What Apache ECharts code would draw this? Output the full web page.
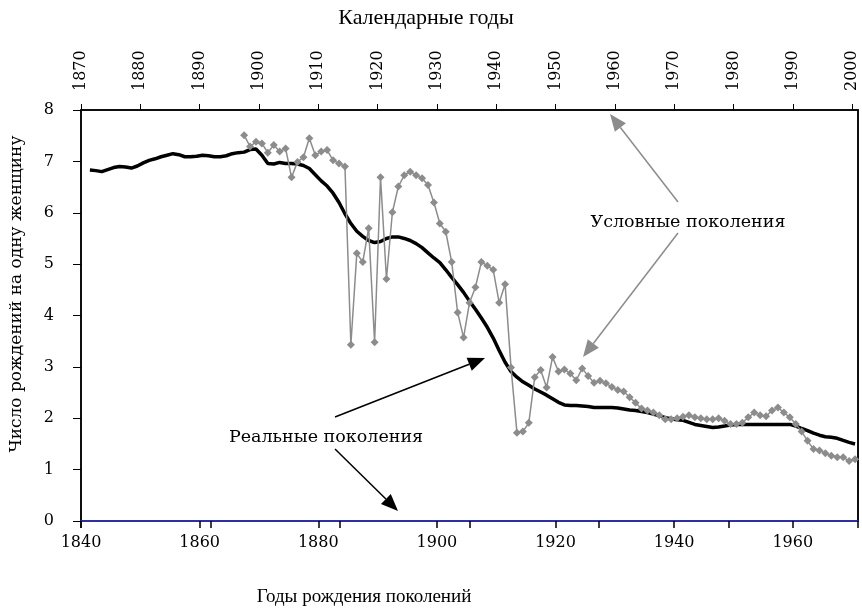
<!DOCTYPE html>
<html>
<head>
<meta charset="utf-8">
<script src="https://cdn.jsdelivr.net/npm/echarts@6/dist/echarts.min.js"></script>
<style>
  html, body { margin: 0; padding: 0; background: #fff; }
</style>
</head>
<body>
<div id="main" style="width:862px;height:609px;"></div>
<script>
// реальные поколения: годы рождения 1841..1970
var birthStart = 1841;
var realGen = [
  6.83, 6.82, 6.80, 6.84, 6.88, 6.90, 6.89, 6.87, 6.91, 6.97,
  7.02, 7.05, 7.09, 7.12, 7.15, 7.13, 7.09, 7.09, 7.10, 7.12,
  7.11, 7.09, 7.09, 7.11, 7.15, 7.17, 7.18, 7.23, 7.24, 7.12,
  6.96, 6.95, 6.98, 6.96, 6.96, 6.95, 6.92, 6.86, 6.74, 6.62,
  6.52, 6.38, 6.20, 5.98, 5.79, 5.64, 5.54, 5.46, 5.42, 5.44,
  5.50, 5.53, 5.53, 5.50, 5.46, 5.40, 5.32, 5.22, 5.12, 5.03,
  4.89, 4.74, 4.60, 4.45, 4.28, 4.12, 3.95, 3.77, 3.56, 3.32,
  3.09, 2.91, 2.80, 2.71, 2.64, 2.57, 2.51, 2.45, 2.38, 2.31,
  2.26, 2.25, 2.25, 2.24, 2.23, 2.21, 2.21, 2.21, 2.21, 2.20,
  2.18, 2.16, 2.15, 2.13, 2.11, 2.08, 2.05, 2.01, 1.99, 1.97,
  1.96, 1.92, 1.88, 1.86, 1.84, 1.82, 1.83, 1.85, 1.87, 1.88,
  1.88, 1.88, 1.88, 1.88, 1.88, 1.88, 1.88, 1.88, 1.88, 1.85,
  1.80, 1.76, 1.71, 1.67, 1.64, 1.63, 1.61, 1.57, 1.53, 1.50
];

// условные поколения: календарные годы 1897..2000
var calStart = 1897;
var condGen = [
  7.51, 7.29, 7.38, 7.35, 7.17, 7.32, 7.19, 7.25, 6.69, 6.99,
  7.08, 7.45, 7.12, 7.19, 7.22, 7.02, 6.96, 6.90, 3.43, 5.21,
  5.04, 5.70, 3.48, 6.69, 4.71, 6.01, 6.51, 6.73, 6.80, 6.73,
  6.67, 6.54, 6.20, 5.79, 5.63, 5.04, 4.06, 3.57, 4.25, 4.55,
  5.04, 4.97, 4.89, 4.25, 4.61, 2.99, 1.72, 1.74, 1.91, 2.80,
  2.94, 2.60, 3.19, 2.91, 2.95, 2.87, 2.74, 2.97, 2.82, 2.69,
  2.73, 2.68, 2.61, 2.55, 2.52, 2.41, 2.30, 2.19, 2.15, 2.11,
  2.06, 1.98, 1.98, 2.00, 2.03, 2.06, 2.02, 2.00, 1.98, 1.98,
  2.00, 1.95, 1.89, 1.89, 1.91, 2.02, 2.11, 2.06, 2.04, 2.15,
  2.21, 2.11, 2.02, 1.89, 1.74, 1.56, 1.40, 1.37, 1.32, 1.27,
  1.24, 1.24, 1.17, 1.20
];

var FONT = "DejaVu Serif";
var TFONT = "Liberation Serif";
var GREY = "#8c8c8c";

// точки годовых данных ставим в середину года
var realData = realGen.map(function (v, i) { return [birthStart + i + 0.5, v]; });
var condData = condGen.map(function (v, i) { return [calStart + i + 0.5, v]; });

// стрелка: линия + треугольный наконечник
function arrow(x1, y1, x2, y2, color) {
  var a = Math.atan2(y2 - y1, x2 - x1);
  var L = 17, W = 7;
  var bx = x2 - L * Math.cos(a), by = y2 - L * Math.sin(a);
  var px = -Math.sin(a), py = Math.cos(a);
  return [
    { type: "line", shape: { x1: x1, y1: y1, x2: bx, y2: by }, style: { stroke: color, lineWidth: 1.5 } },
    { type: "polygon", shape: { points: [[x2, y2], [bx + W * px, by + W * py], [bx - W * px, by - W * py]] }, style: { fill: color } }
  ];
}

var myChart = echarts.init(document.getElementById("main"));

var graphics = [
  { type: "text", x: 426, y: 18, style: { text: "Календарные годы", font: "22px " + TFONT, fill: "#000", align: "center", verticalAlign: "middle" } },
  { type: "text", x: 364, y: 597, style: { text: "Годы рождения поколений", font: "19px " + TFONT, fill: "#000", align: "center", verticalAlign: "middle" } },
  { type: "text", x: 17, y: 294, rotation: Math.PI / 2,
    style: { text: "Число рождений на одну женщину", font: "17px " + FONT, fill: "#000", align: "center", verticalAlign: "middle" } },
  { type: "text", x: 688, y: 222, style: { text: "Условные поколения", font: "17.5px " + FONT, fill: "#000", align: "center", verticalAlign: "middle" } },
  { type: "text", x: 326, y: 437, style: { text: "Реальные поколения", font: "17.5px " + FONT, fill: "#000", align: "center", verticalAlign: "middle" } }
]
  .concat(arrow(678, 202, 610, 114, GREY))
  .concat(arrow(678, 233, 583, 357, GREY))
  .concat(arrow(335, 417, 485, 358, "#000"))
  .concat(arrow(335, 449, 398, 511, "#000"));

function yearLabel(step) {
  return function (v) { return v % step === 0 ? String(v) : ""; };
}

var option = {
  animation: false,
  backgroundColor: "#fff",
  grid: { left: 81, right: 4, top: 110, bottom: 88, show: true, borderColor: "#000", borderWidth: 1.5, backgroundColor: "transparent" },
  xAxis: [
    {
      type: "value",
      position: "bottom",
      min: 1840,
      max: 1971,
      interval: 20,
      splitLine: { show: false },
      axisLine: { show: true, onZero: false, lineStyle: { color: "#2b2bbf", width: 1.5 } },
      axisTick: { show: true, length: 7, lineStyle: { color: "#000", width: 1.5 } },
      axisLabel: { formatter: yearLabel(20), showMaxLabel: false, margin: 14, color: "#000", fontFamily: FONT, fontSize: 16 }
    },
    {
      type: "value",
      position: "top",
      min: 1870,
      max: 2001,
      interval: 10,
      splitLine: { show: false },
      axisLine: { show: true, onZero: false, lineStyle: { color: "#000", width: 1.5 } },
      axisTick: { show: true, length: 6, lineStyle: { color: "#000", width: 1 } },
      axisLabel: { formatter: yearLabel(10), showMaxLabel: false, rotate: -90, margin: 19, color: "#000", fontFamily: FONT, fontSize: 16 }
    },
    {
      // только засечки нижней оси
      type: "value",
      position: "bottom",
      min: 1840,
      max: 1960,
      interval: 20,
      splitLine: { show: false },
      axisLine: { show: false, onZero: false },
      axisTick: { show: true, length: 7, lineStyle: { color: "#000", width: 1.5 } },
      axisLabel: { show: false }
    }
  ],
  yAxis: [
    {
      type: "value",
      min: 0,
      max: 8,
      interval: 1,
      splitLine: { show: false },
      axisLine: { show: true, onZero: false, lineStyle: { color: "#000", width: 1.5 } },
      axisTick: { show: true, length: 8, lineStyle: { color: "#000" } },
      axisLabel: { margin: 27, color: "#000", fontFamily: FONT, fontSize: 16 }
    },
    {
      type: "value",
      position: "right",
      min: 0,
      max: 8,
      splitLine: { show: false },
      axisLine: { show: true, onZero: false, lineStyle: { color: "#000", width: 1.5 } },
      axisTick: { show: false },
      axisLabel: { show: false }
    }
  ],
  series: [
    {
      name: "Реальные поколения",
      type: "line",
      xAxisIndex: 0,
      yAxisIndex: 0,
      data: realData,
      symbol: "none",
      lineStyle: { color: "#000", width: 3.5 },
      z: 2
    },
    {
      name: "Условные поколения",
      type: "line",
      xAxisIndex: 1,
      yAxisIndex: 0,
      data: condData,
      symbol: "diamond",
      symbolSize: 8,
      itemStyle: { color: GREY },
      lineStyle: { color: GREY, width: 1.5 },
      z: 3
    }
  ],
  graphic: graphics
};

myChart.setOption(option);
</script>
</body>
</html>
